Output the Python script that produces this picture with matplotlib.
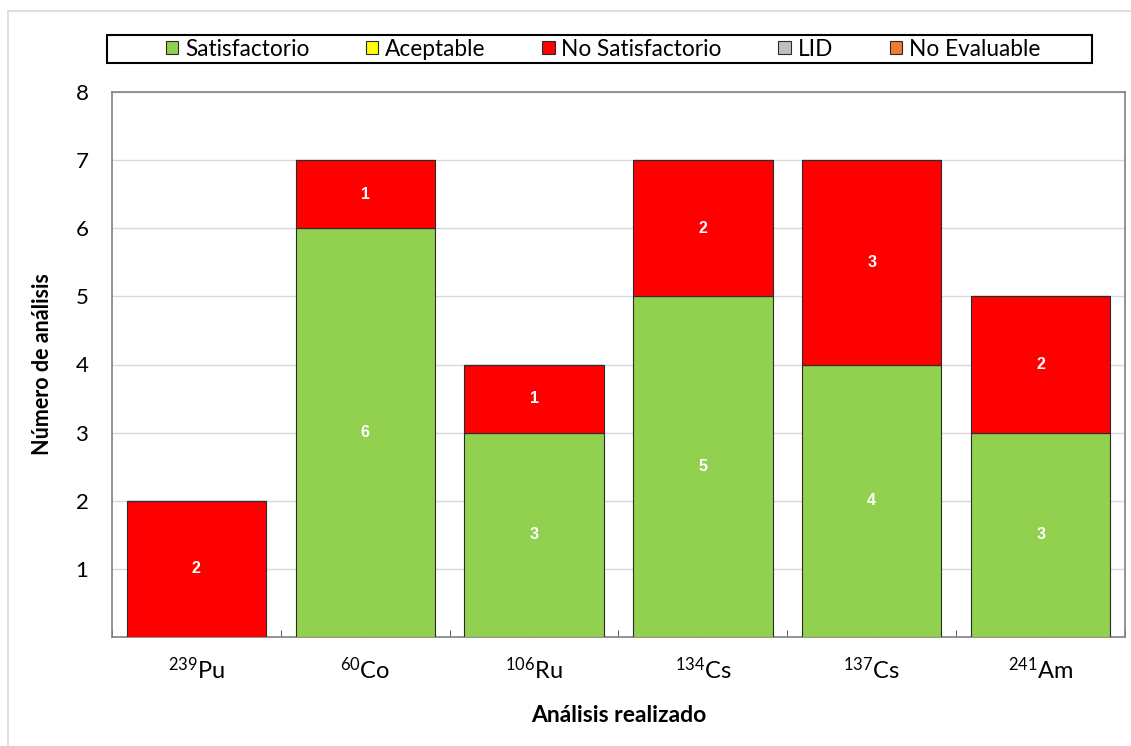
import matplotlib
matplotlib.use("Agg")
import matplotlib.pyplot as plt
from matplotlib.patches import Rectangle
import numpy as np

categories = [r"$^{239}$Pu", r"$^{60}$Co", r"$^{106}$Ru", r"$^{134}$Cs", r"$^{137}$Cs", r"$^{241}$Am"]
series_names = ["Satisfactorio", "Aceptable", "No Satisfactorio", "LID", "No Evaluable"]
satisfactorio = [0, 6, 3, 5, 4, 3]
aceptable = [0, 0, 0, 0, 0, 0]
no_satisfactorio = [2, 1, 1, 2, 3, 2]
lid = [0, 0, 0, 0, 0, 0]
no_evaluable = [0, 0, 0, 0, 0, 0]
colors = ["#92D050", "#FFFF00", "#FF0000", "#BFBFBF", "#ED7D31"]
y_ticks = [1, 2, 3, 4, 5, 6, 7, 8]

plt.rcParams["font.family"] = ["Lato", "DejaVu Sans"]
plt.rcParams["mathtext.fontset"] = "custom"
plt.rcParams["mathtext.rm"] = "Lato"
plt.rcParams["mathtext.it"] = "Lato:italic"
plt.rcParams["mathtext.bf"] = "Lato:bold"

W, H = 1131, 746
fig = plt.figure(figsize=(W / 100, H / 100), dpi=100)

# outer light border
fig.add_artist(Rectangle((8 / W, -0.1), 1.2, (H - 11) / H + 0.1, transform=fig.transFigure,
                         fill=False, edgecolor="#D9D9D9", linewidth=1.2))

ax = fig.add_axes([112 / W, (H - 637) / H, (1125 - 112) / W, (637 - 92) / H])

x = np.arange(len(categories))
data = [satisfactorio, aceptable, no_satisfactorio, lid, no_evaluable]
bottom = np.zeros(len(categories))
handles = []
for name, vals, c in zip(series_names, data, colors):
    vals = np.array(vals, dtype=float)
    bars = ax.bar(x, vals, 0.825, bottom=bottom, color=c, edgecolor="#2b2b2b",
                  linewidth=0.8, label=name, zorder=3)
    for xi, v, b in zip(x, vals, bottom):
        if v > 0:
            ax.text(xi, b + v / 2, f"{int(v)}", ha="center", va="center",
                    color="white", fontsize=11.5, fontweight="bold",
                    family=["Liberation Sans", "DejaVu Sans"], zorder=4)
    handles.append(bars)
    bottom += vals

ax.set_xlim(-0.5, len(categories) - 0.5)
ax.set_ylim(0, 8)
ax.set_yticks(y_ticks)
ax.yaxis.grid(True, color="#D9D9D9", linewidth=1, zorder=0)
ax.set_axisbelow(True)
ax.tick_params(axis="y", length=0, pad=17, labelsize=16)
ax.set_xticks(x)
ax.set_xticklabels(categories, fontsize=17)
ax.tick_params(axis="x", direction="in", length=5, pad=14, color="#404040")
ax.set_xticks(np.arange(-0.5, len(categories) + 0.5, 1), minor=True)
ax.tick_params(axis="x", which="minor", direction="in", length=5, color="#404040")
for s in ax.spines.values():
    s.set_color("#808080")
    s.set_linewidth(1.2)

ax.set_ylabel("Número de análisis", fontsize=15.5, fontweight="bold", labelpad=16)
ax.set_xlabel("Análisis realizado", fontsize=16.5, fontweight="bold", labelpad=16)

# legend frame
fig.add_artist(Rectangle((107 / W, (H - 63) / H), (1092 - 107) / W, 28 / H,
                         transform=fig.transFigure, fill=False, edgecolor="black", linewidth=1.5))
leg = fig.legend(handles=handles, labels=series_names, loc="center",
                 bbox_to_anchor=(603 / W, (H - 49) / H), ncol=5, frameon=False,
                 fontsize=16.3, handlelength=0.55, handleheight=0.55, handletextpad=0.3,
                 columnspacing=2.5, borderpad=0)

fig.savefig("out.png", dpi=100)
